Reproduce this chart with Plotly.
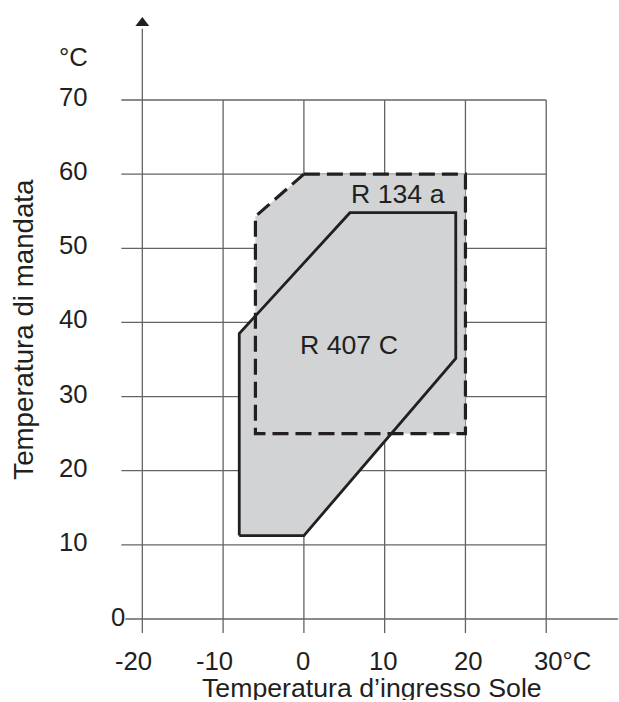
import plotly.graph_objects as go

# ---------------- data ----------------
x_ticks = [-20, -10, 0, 10, 20, 30]
x_tick_labels = ["-20", "-10", "0", "10", "20", "30°C"]
y_ticks = [0, 10, 20, 30, 40, 50, 60, 70]
y_tick_labels = ["0", "10", "20", "30", "40", "50", "60", "70"]

# R 134 a operating envelope (dashed)
r134a_x = [0, 20, 20, -6, -6, 0]
r134a_y = [60, 60, 25, 25, 54.3, 60]
# R 407 C operating envelope (solid)
r407c_x = [-8, 0, 18.8, 18.8, 5.7, -8, -8]
r407c_y = [11.25, 11.25, 35.15, 54.8, 54.8, 38.5, 11.25]

series_names = ["R 134 a", "R 407 C"]
x_title = "Temperatura d’ingresso Sole"
y_title = "Temperatura di mandata"
y_unit = "°C"

# ---------------- style ----------------
INK = "#231f20"
GRID = "#636466"
FILL = "#d1d3d4"
FONT = "Liberation Sans, Arial, sans-serif"

fig = go.Figure()

# fills (union look)
for xs, ys in [(r134a_x, r134a_y), (r407c_x, r407c_y)]:
    fig.add_trace(go.Scatter(x=xs, y=ys, mode="lines", fill="toself",
                             fillcolor=FILL, line=dict(width=0),
                             hoverinfo="skip", showlegend=False))
# outlines
fig.add_trace(go.Scatter(x=r134a_x, y=r134a_y, mode="lines",
                         line=dict(color=INK, width=3.2, dash="16px,7px"),
                         name=series_names[0], showlegend=False))
fig.add_trace(go.Scatter(x=r407c_x, y=r407c_y, mode="lines",
                         line=dict(color=INK, width=2.8),
                         name=series_names[1], showlegend=False))

shapes = []
grid_left = -22.6
grid_bottom = -1.9
ymax = max(y_ticks)
xmax = max(x_ticks)
xmin = min(x_ticks)
for yv in y_ticks[1:]:
    shapes.append(dict(type="line", layer="below", x0=grid_left, x1=xmax, y0=yv, y1=yv,
                       line=dict(color=GRID, width=1.3)))
for xv in x_ticks[1:]:
    shapes.append(dict(type="line", layer="below", x0=xv, x1=xv, y0=grid_bottom, y1=ymax,
                       line=dict(color=GRID, width=1.3)))
# axes
shapes.append(dict(type="line", layer="below", x0=xmin, x1=xmin, y0=grid_bottom, y1=79.6,
                   line=dict(color=GRID, width=1.3)))
shapes.append(dict(type="line", layer="below", x0=-22.1, x1=38.9, y0=0, y1=0,
                   line=dict(color=GRID, width=1.3)))

# arrow heads
fig.add_trace(go.Scatter(x=[xmin], y=[80.4], mode="markers",
                         marker=dict(symbol="triangle-up", size=12, color=INK),
                         hoverinfo="skip", showlegend=False, cliponaxis=False))
fig.add_trace(go.Scatter(x=[39.4], y=[0], mode="markers",
                         marker=dict(symbol="triangle-right", size=12, color=INK),
                         hoverinfo="skip", showlegend=False, cliponaxis=False))

ann = []
tfont = dict(family=FONT, size=25.7, color=INK)
for xv, lab in zip(x_ticks, x_tick_labels):
    if lab.endswith("°C"):
        ann.append(dict(x=xv, y=-5.9, text=lab, showarrow=False, xanchor="left",
                        yanchor="middle", xshift=-14, yshift=2, height=22, font=tfont))
    else:
        shift = -9 if lab.startswith("-") else (3 if xv == 20 else -1)
        ann.append(dict(x=xv, y=-5.9, text=lab, showarrow=False, xanchor="center",
                        yanchor="middle", xshift=shift, yshift=2, height=22, font=tfont))
for yv, lab in zip(y_ticks, y_tick_labels):
    if yv == 0:
        ann.append(dict(x=-21.9, y=yv, text=lab, showarrow=False, xanchor="right",
                        yanchor="middle", yshift=2, font=tfont))
    else:
        ann.append(dict(x=-26.5, y=yv, text=lab, showarrow=False, xanchor="right",
                        yanchor="middle", yshift=3, font=tfont))
ann.append(dict(x=-26.5, y=75.8, text=y_unit, showarrow=False, xanchor="right",
                yanchor="middle", font=tfont))
lfont = dict(family=FONT, size=26.7, color=INK)
ann.append(dict(x=11.6, y=57.3, text=series_names[0], showarrow=False, font=lfont))
ann.append(dict(x=5.6, y=37.0, text=series_names[1], showarrow=False, font=lfont))
ann.append(dict(x=8.4, y=-9.2, text=x_title, showarrow=False, height=24, yshift=-1,
                font=lfont))
ann.append(dict(x=-34.7, y=39.1, text=y_title, showarrow=False, textangle=-90,
                font=dict(family=FONT, size=27.7, color=INK)))

fig.update_layout(
    width=619, height=702,
    margin=dict(l=0, r=0, t=0, b=0),
    paper_bgcolor="white", plot_bgcolor="white",
    xaxis=dict(range=[-37.62, 39.01], visible=False, fixedrange=True),
    yaxis=dict(range=[-11.195, 83.49], visible=False, fixedrange=True),
    shapes=shapes, annotations=ann, showlegend=False,
)

fig.write_html(
    "out.html",
    config={"displayModeBar": False},
    post_script="document.body.style.margin='0';document.body.style.overflow='hidden';"
                "document.documentElement.style.overflow='hidden';",
)
